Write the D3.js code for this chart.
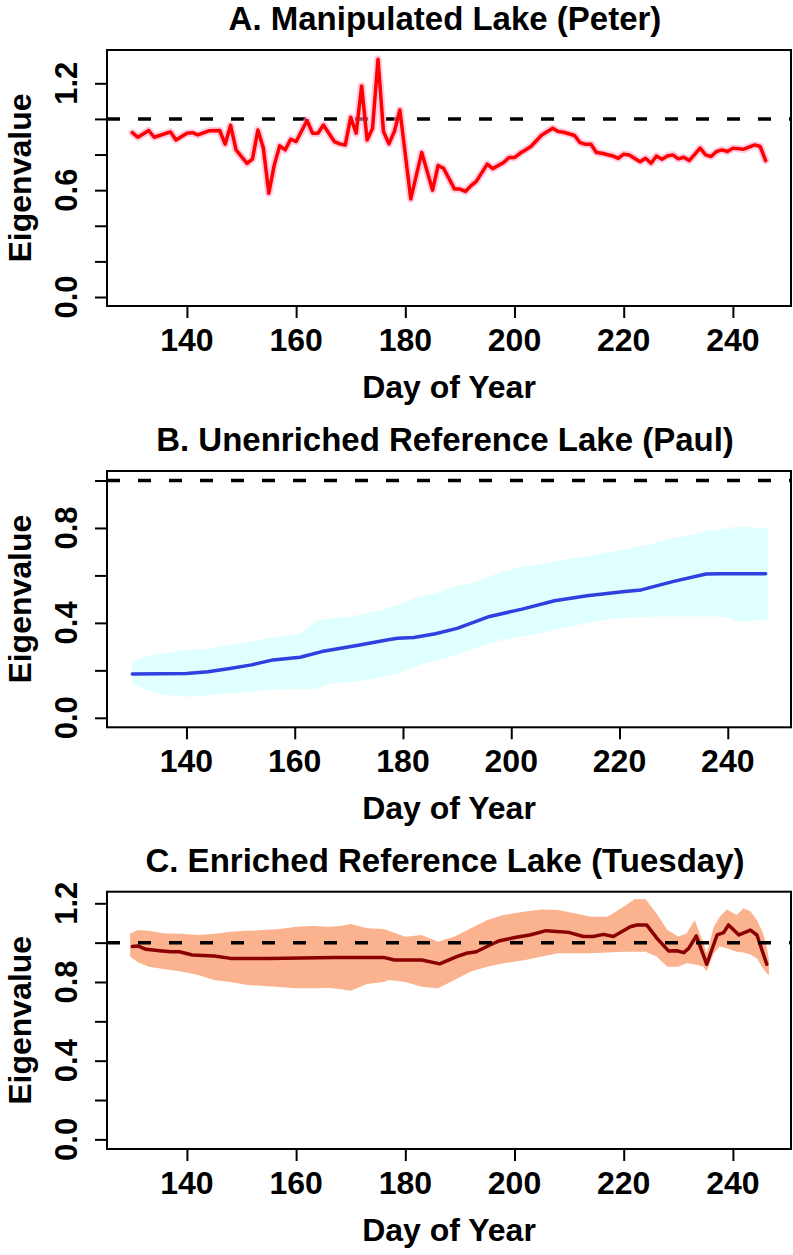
<!DOCTYPE html>
<html>
<head>
<meta charset="utf-8">
<script src="https://cdn.jsdelivr.net/npm/d3@7"></script>
<style>
html,body{margin:0;padding:0;background:#fff;}
svg text{font-family:"Liberation Sans",Arial,Helvetica,sans-serif;font-weight:bold;fill:#000;}
</style>
</head>
<body>
<svg id="chart" width="793" height="1255"></svg>
<script>
// ---------- Panel A: Manipulated Lake (Peter) ----------
const peterDays = [130,131,133,134,137,138,140,141,142,144,146,147,148,149,151,152,153,154,155,156,157,158,159,160,162,163,164,165,167,168,169,170,171,172,173,174,175,176,177,178,179,181,183,185,186,187,189,190,191,192,193,195,196,198,199,200,201,202,203,205,207,208,209,211,212,213,214,215,216,218,219,220,221,223,224,225,226,227,228,229,230,231,232,234,235,236,237,238,239,240,242,244,245,246];
const peterEig = [0.923,0.897,0.935,0.897,0.927,0.882,0.92,0.923,0.91,0.933,0.935,0.858,0.964,0.826,0.75,0.774,0.938,0.836,0.583,0.742,0.849,0.826,0.886,0.873,0.991,0.92,0.92,0.966,0.873,0.86,0.854,1.009,0.92,1.185,0.882,0.948,1.335,0.929,0.86,0.93,1.05,0.551,0.811,0.60,0.738,0.723,0.607,0.606,0.593,0.624,0.649,0.746,0.721,0.755,0.783,0.783,0.807,0.826,0.845,0.91,0.948,0.929,0.925,0.907,0.867,0.858,0.858,0.811,0.807,0.792,0.779,0.802,0.798,0.76,0.779,0.751,0.792,0.774,0.792,0.798,0.776,0.785,0.766,0.836,0.798,0.789,0.817,0.826,0.817,0.836,0.83,0.854,0.845,0.766];

// ---------- Panel B: Unenriched Reference Lake (Paul) ----------
const paulDays = [130,135,140,144,148,152,156,161,165,172,177,179,182,186,190,196,202,208,214,221,224,230,236,239,247];
const paulEig = [0.185,0.186,0.187,0.194,0.208,0.223,0.244,0.255,0.279,0.307,0.328,0.335,0.338,0.354,0.377,0.427,0.458,0.493,0.514,0.532,0.539,0.575,0.606,0.607,0.607];
const paulBandDays = [130,133,136,140,144,148,152,155,158,161,164,167,170,173,176,179,183,186,190,193,196,199,202,205,208,211,214,217,220,224,227,230,233,236,239,242,245,247.5];
const paulUpper = [0.24,0.26,0.272,0.286,0.29,0.307,0.32,0.335,0.345,0.355,0.41,0.42,0.425,0.44,0.455,0.476,0.511,0.525,0.554,0.57,0.596,0.62,0.635,0.645,0.66,0.67,0.68,0.695,0.705,0.723,0.74,0.758,0.77,0.786,0.795,0.807,0.8,0.8];
const paulLower = [0.14,0.115,0.096,0.089,0.095,0.103,0.11,0.117,0.12,0.12,0.124,0.145,0.15,0.159,0.17,0.187,0.223,0.24,0.265,0.29,0.314,0.33,0.342,0.355,0.37,0.385,0.399,0.41,0.42,0.425,0.427,0.427,0.427,0.427,0.427,0.406,0.41,0.413];

// ---------- Panel C: Enriched Reference Lake (Tuesday) ----------
const tuesDays = [130,131,132.5,135,137,138.6,141,145,148,155,167,176,178,183,186.3,189.4,191.2,193,195.5,197.3,200.3,202.8,205.8,208.3,210.1,212.6,214.4,216.3,218.1,221.2,222.4,224.2,226.1,228.2,229.7,231,231.9,233.3,235.2,237.1,238.3,239.2,241.1,243.2,244.4,246.2];
const tuesEig = [0.98,0.983,0.966,0.959,0.954,0.954,0.937,0.932,0.92,0.92,0.924,0.925,0.912,0.912,0.892,0.929,0.946,0.954,0.988,1.01,1.027,1.039,1.061,1.056,1.051,1.031,1.031,1.042,1.031,1.081,1.09,1.09,1.022,0.958,0.959,0.949,0.971,1.034,0.89,1.039,1.051,1.09,1.039,1.064,1.039,0.89];
const tuesBandDays = [129.6,131,133,136,139,142,145,148,151,154,157,160,163,166,168,170,173,176,177,180,183,186,189,192,195,198,202,205,208,211,214,217,220,222,224,226,228,230,231.5,233,234.6,235.2,236.5,237.6,238.9,240.7,241.9,243.2,244.4,245.5,246.2,246.6];
const tuesUpper = [1.047,1.064,1.06,1.047,1.045,1.039,1.045,1.056,1.06,1.064,1.07,1.081,1.085,1.081,1.085,1.095,1.073,1.07,1.06,1.03,1.039,1.005,1.031,1.073,1.115,1.141,1.158,1.169,1.166,1.149,1.132,1.132,1.183,1.222,1.22,1.149,1.064,1.031,1.047,1.115,0.997,0.946,1.081,1.132,1.169,1.141,1.175,1.16,1.115,1.05,0.98,0.912];
const tuesLower = [0.929,0.90,0.878,0.865,0.853,0.835,0.81,0.80,0.785,0.78,0.775,0.768,0.768,0.77,0.765,0.756,0.79,0.80,0.81,0.80,0.776,0.768,0.81,0.853,0.878,0.895,0.912,0.929,0.946,0.946,0.946,0.95,0.954,0.954,0.954,0.929,0.878,0.878,0.895,0.89,0.878,0.853,0.946,0.98,0.971,0.954,0.95,0.94,0.92,0.87,0.844,0.836];

// ---------- Axis definitions ----------
const xTicks = [140,160,180,200,220,240];
const yTicksA = [0,0.2,0.4,0.6,0.8,1.0,1.2];
const yLabelsA = [0,0.6,1.2];
const yTicksB = [0,0.2,0.4,0.6,0.8,1.0];
const yLabelsB = [0,0.4,0.8];
const yTicksC = [0,0.2,0.4,0.6,0.8,1.0,1.2];
const yLabelsC = [0,0.4,0.8,1.2];
const titles = ["A. Manipulated Lake (Peter)","B. Unenriched Reference Lake (Paul)","C. Enriched Reference Lake (Tuesday)"];
const xTitle = "Day of Year";
const yTitle = "Eigenvalue";
const threshold = 1.0;

const svg = d3.select("#chart");
const fmt = d3.format(".1f");

function panel(cfg){
  const g = svg.append("g");
  const x = d3.scaleLinear().domain(cfg.xdom).range([cfg.left, cfg.right]);
  const y = d3.scaleLinear().domain(cfg.ydom).range([cfg.bottom, cfg.top]);
  const clipId = "clip" + cfg.id;
  svg.append("clipPath").attr("id", clipId).append("rect")
    .attr("x", cfg.left).attr("y", cfg.top)
    .attr("width", cfg.right - cfg.left).attr("height", cfg.bottom - cfg.top);
  const inner = g.append("g").attr("clip-path", `url(#${clipId})`);

  if (cfg.band){
    const pts = cfg.band.days.map((d,i)=>({d, lo: cfg.band.lo[i], hi: cfg.band.hi[i]}));
    inner.append("path").datum(pts)
      .attr("d", d3.area().x(p=>x(p.d)).y0(p=>y(p.lo)).y1(p=>y(p.hi)))
      .attr("fill", cfg.band.color).attr("stroke", "none");
  }
  const dash = () => inner.append("line")
      .attr("x1", cfg.left).attr("x2", cfg.right)
      .attr("y1", y(threshold)).attr("y2", y(threshold))
      .attr("stroke", "#000").attr("stroke-width", 3.5)
      .attr("stroke-dasharray", "13,18");
  const pts = cfg.days.map((d,i)=>[d, cfg.vals[i]]);
  const lineGen = d3.line().x(p=>x(p[0])).y(p=>y(p[1]));
  if (cfg.dashFirst) dash();
  if (cfg.halo){
    inner.append("path").datum(pts).attr("d", lineGen)
      .attr("fill","none").attr("stroke", cfg.halo).attr("stroke-width", 7.5)
      .attr("stroke-linejoin","round").attr("stroke-linecap","round").attr("opacity",0.55);
  }
  inner.append("path").datum(pts).attr("d", lineGen)
    .attr("fill","none").attr("stroke", cfg.color).attr("stroke-width", cfg.lw)
    .attr("stroke-linejoin","round").attr("stroke-linecap","round");
  if (!cfg.dashFirst) dash();

  // box
  g.append("rect").attr("x", cfg.left).attr("y", cfg.top)
    .attr("width", cfg.right - cfg.left).attr("height", cfg.bottom - cfg.top)
    .attr("fill","none").attr("stroke","#000").attr("stroke-width",2);

  // x axis
  const xa = g.append("g").attr("transform", `translate(0,${cfg.bottom})`)
    .call(d3.axisBottom(x).tickValues(xTicks).tickSize(12).tickSizeOuter(0).tickFormat(""));
  xa.select(".domain").remove();
  xa.selectAll("line").attr("stroke","#000").attr("stroke-width",2);
  g.selectAll(".xlab").data(xTicks).enter().append("text")
    .attr("x", d=>x(d)).attr("y", cfg.bottom + 45)
    .attr("text-anchor","middle").attr("font-size", 32).text(d=>d);

  // y axis
  const ya = g.append("g").attr("transform", `translate(${cfg.left},0)`)
    .call(d3.axisLeft(y).tickValues(cfg.yTicks).tickSize(12).tickSizeOuter(0).tickFormat(""));
  ya.select(".domain").remove();
  ya.selectAll("line").attr("stroke","#000").attr("stroke-width",2);
  g.selectAll(".ylab").data(cfg.yLabels).enter().append("text")
    .attr("transform", d=>`translate(77,${y(d)}) rotate(-90)`)
    .attr("text-anchor","middle").attr("font-size", 31).text(d=>fmt(d));

  // titles
  g.append("text").attr("x", 445).attr("y", cfg.top - 20)
    .attr("text-anchor","middle").attr("font-size", 33).text(cfg.title);
  g.append("text").attr("x", (cfg.left + cfg.right)/2).attr("y", cfg.bottom + 92)
    .attr("text-anchor","middle").attr("font-size", 32).text(xTitle);
  g.append("text")
    .attr("transform", `translate(31,${(cfg.top + cfg.bottom)/2}) rotate(-90)`)
    .attr("text-anchor","middle").attr("font-size", 32).text(yTitle);
}

panel({id:"A", left:107, right:791, top:50, bottom:306,
  xdom:[125.36,250.64], ydom:[-0.0505,1.387],
  days:peterDays, vals:peterEig, color:"#FF0000", halo:"#FF9CC8", lw:3.5, dashFirst:true,
  yTicks:yTicksA, yLabels:yLabelsA, title:titles[0]});

panel({id:"B", left:107, right:791, top:471, bottom:727.3,
  xdom:[125.32,251.68], ydom:[-0.04,1.04],
  days:paulDays, vals:paulEig, color:"#2F3FE0", lw:3.5,
  band:{days:paulBandDays, lo:paulLower, hi:paulUpper, color:"#E0FFFF"},
  yTicks:yTicksB, yLabels:yLabelsB, title:titles[1]});

panel({id:"C", left:107, right:791, top:891.7, bottom:1149,
  xdom:[125.36,250.64], ydom:[-0.049,1.259],
  days:tuesDays, vals:tuesEig, color:"#8B0000", lw:3.5,
  band:{days:tuesBandDays, lo:tuesLower, hi:tuesUpper, color:"#FBB38F"},
  yTicks:yTicksC, yLabels:yLabelsC, title:titles[2]});
</script>
</body>
</html>
